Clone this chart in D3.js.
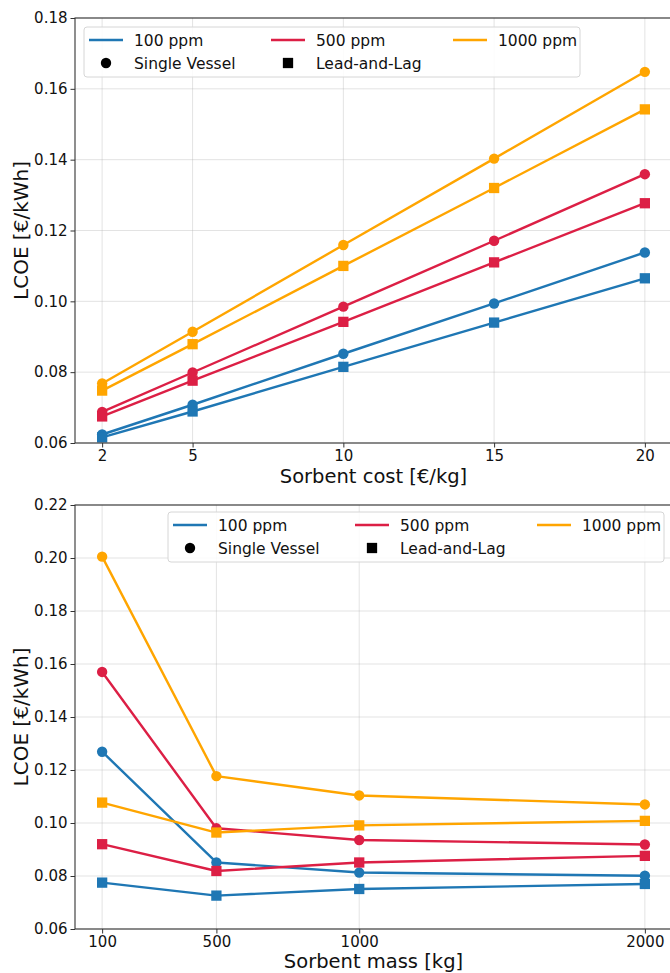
<!DOCTYPE html>
<html>
<head>
<meta charset="utf-8">
<script src="https://cdn.jsdelivr.net/npm/d3@7/dist/d3.min.js"></script>
<style>
  html, body { margin: 0; padding: 0; background: #fff; }
  svg { display: block; font-family: "DejaVu Sans", sans-serif; }
</style>
</head>
<body>
<svg id="chart" width="670" height="973"></svg>
<script>
// Sorbent cost sweep [€/kg]
const costValues = [2, 5, 10, 15, 20];
const costTicks = [2, 5, 10, 15, 20];
// Sorbent mass sweep [kg]
const massValues = [100, 500, 1000, 2000];
const massTicks = [100, 500, 1000, 2000];

// LCOE [€/kWh] vs sorbent cost
const cost100SV  = [0.0624, 0.0708, 0.0852, 0.0994, 0.1138];
const cost100LL  = [0.0616, 0.0689, 0.0815, 0.0940, 0.1065];
const cost500SV  = [0.0688, 0.0799, 0.0985, 0.1171, 0.1359];
const cost500LL  = [0.0675, 0.0776, 0.0942, 0.1110, 0.1277];
const cost1000SV = [0.0768, 0.0914, 0.1159, 0.1403, 0.1648];
const cost1000LL = [0.0748, 0.0879, 0.1100, 0.1320, 0.1542];

// LCOE [€/kWh] vs sorbent mass
const mass100SV  = [0.1269, 0.0851, 0.0813, 0.0801];
const mass100LL  = [0.0775, 0.0726, 0.0751, 0.0770];
const mass500SV  = [0.1570, 0.0980, 0.0936, 0.0919];
const mass500LL  = [0.0920, 0.0819, 0.0851, 0.0876];
const mass1000SV = [0.2005, 0.1177, 0.1104, 0.1070];
const mass1000LL = [0.1077, 0.0964, 0.0991, 0.1008];

const costYTicks = [0.06, 0.08, 0.10, 0.12, 0.14, 0.16, 0.18];
const massYTicks = [0.06, 0.08, 0.10, 0.12, 0.14, 0.16, 0.18, 0.20, 0.22];

const concLabels = ["100 ppm", "500 ppm", "1000 ppm"];
const configLabels = ["Single Vessel", "Lead-and-Lag"];
const colors = ["#1f77b4", "#dc1f45", "#ffa500"];

const svg = d3.select("#chart");

function drawPanel(opt) {
  const { left, right, top, bottom, xs, xTicks, yDomain, yTicks, series, xLabel, legendX, legendY } = opt;
  const x = d3.scaleLinear().domain(opt.xDomain).range([left, right]);
  const y = d3.scaleLinear().domain(yDomain).range([bottom, top]);
  const g = svg.append("g");

  // grid
  g.append("g").selectAll("line").data(xTicks).join("line")
    .attr("x1", d => x(d)).attr("x2", d => x(d))
    .attr("y1", top).attr("y2", bottom)
    .attr("stroke", "#b0b0b0").attr("stroke-opacity", 0.35).attr("stroke-width", 1);
  g.append("g").selectAll("line").data(yTicks).join("line")
    .attr("x1", left).attr("x2", right)
    .attr("y1", d => y(d)).attr("y2", d => y(d))
    .attr("stroke", "#b0b0b0").attr("stroke-opacity", 0.35).attr("stroke-width", 1);

  // series
  const line = d3.line().x((d, i) => x(xs[i])).y(d => y(d));
  series.forEach(s => {
    g.append("path").datum(s.values)
      .attr("d", line).attr("fill", "none")
      .attr("stroke", s.color).attr("stroke-width", 2.4)
      .attr("stroke-linejoin", "round");
    const sym = d3.symbol().type(s.marker === "o" ? d3.symbolCircle : d3.symbolSquare)
      .size(s.marker === "o" ? Math.PI * 27 : 106);
    g.append("g").selectAll("path").data(s.values).join("path")
      .attr("transform", (d, i) => `translate(${x(xs[i])},${y(d)})`)
      .attr("d", sym).attr("fill", s.color);
  });

  // axes
  const xAxis = d3.axisBottom(x).tickValues(xTicks).tickSize(4.5).tickPadding(3).tickFormat(d3.format("d"));
  const yAxis = d3.axisLeft(y).tickValues(yTicks).tickSize(4.5).tickPadding(3).tickFormat(d3.format(".2f"));
  const gx = g.append("g").attr("transform", `translate(0,${bottom})`).call(xAxis);
  const gy = g.append("g").attr("transform", `translate(${left},0)`).call(yAxis);
  [gx, gy].forEach(a => {
    a.select(".domain").remove();
    a.selectAll(".tick line").attr("stroke", "#333");
    a.selectAll(".tick text").attr("fill", "#111").style("font-size", "15px")
      .style("font-family", "DejaVu Sans, sans-serif");
  });

  // frame
  g.append("rect").attr("x", left).attr("y", top)
    .attr("width", right - left).attr("height", bottom - top)
    .attr("fill", "none").attr("stroke", "#333").attr("stroke-width", 1.1);

  // axis labels
  g.append("text").attr("x", (left + right) / 2).attr("y", bottom + opt.xLabelGap)
    .attr("text-anchor", "middle").style("font-size", "19.5px").attr("fill", "#111").text(xLabel);
  g.append("text")
    .attr("transform", `translate(28,${(top + bottom) / 2}) rotate(-90)`)
    .attr("text-anchor", "middle").style("font-size", "20px").attr("fill", "#111")
    .text("LCOE [€/kWh]");

  // legend
  const lg = g.append("g").attr("transform", `translate(${legendX},${legendY})`);
  lg.append("rect").attr("x", 0).attr("y", 0).attr("width", 496).attr("height", 50)
    .attr("rx", 3).attr("fill", "#fff").attr("fill-opacity", 0.85)
    .attr("stroke", "#d6d6d6").attr("stroke-width", 1);
  concLabels.forEach((lab, i) => {
    const cx = 5 + i * 182;
    lg.append("line").attr("x1", cx).attr("x2", cx + 34).attr("y1", 13).attr("y2", 13)
      .attr("stroke", colors[i]).attr("stroke-width", 2.4);
    lg.append("text").attr("x", cx + 45).attr("y", 13).attr("dy", "0.36em")
      .style("font-size", "15.5px").attr("fill", "#111").text(lab);
  });
  configLabels.forEach((lab, i) => {
    const cx = 5 + i * 182 + 17;
    const sym = d3.symbol().type(i === 0 ? d3.symbolCircle : d3.symbolSquare)
      .size(i === 0 ? Math.PI * 27 : 106);
    lg.append("path").attr("transform", `translate(${cx},36)`).attr("d", sym).attr("fill", "#000");
    lg.append("text").attr("x", cx + 28).attr("y", 36).attr("dy", "0.36em")
      .style("font-size", "15.5px").attr("fill", "#111").text(lab);
  });
}

drawPanel({
  left: 75, right: 672, top: 18, bottom: 443,
  xDomain: [1.1, 20.9], xs: costValues, xTicks: costTicks,
  yDomain: [0.06, 0.18], yTicks: costYTicks,
  xLabel: "Sorbent cost [€/kg]", xLabelGap: 40,
  legendX: 84, legendY: 27,
  series: [
    { values: cost100SV, color: colors[0], marker: "o" },
    { values: cost100LL, color: colors[0], marker: "s" },
    { values: cost500SV, color: colors[1], marker: "o" },
    { values: cost500LL, color: colors[1], marker: "s" },
    { values: cost1000SV, color: colors[2], marker: "o" },
    { values: cost1000LL, color: colors[2], marker: "s" }
  ]
});

drawPanel({
  left: 75, right: 672, top: 505, bottom: 929,
  xDomain: [5, 2095], xs: massValues, xTicks: massTicks,
  yDomain: [0.06, 0.22], yTicks: massYTicks,
  xLabel: "Sorbent mass [kg]", xLabelGap: 38.5,
  legendX: 168, legendY: 512,
  series: [
    { values: mass100SV, color: colors[0], marker: "o" },
    { values: mass100LL, color: colors[0], marker: "s" },
    { values: mass500SV, color: colors[1], marker: "o" },
    { values: mass500LL, color: colors[1], marker: "s" },
    { values: mass1000SV, color: colors[2], marker: "o" },
    { values: mass1000LL, color: colors[2], marker: "s" }
  ]
});
</script>
</body>
</html>
